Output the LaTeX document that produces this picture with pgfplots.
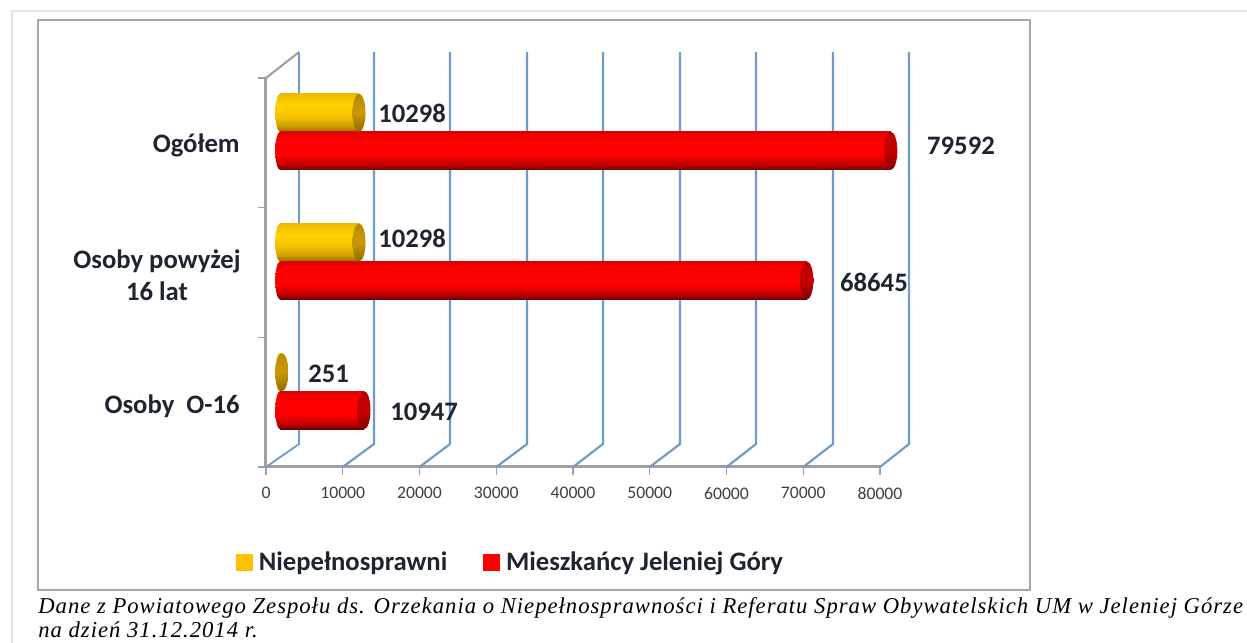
\documentclass[border=0pt]{standalone}
\usepackage{fontspec}
\setmainfont{Carlito}
\newfontfamily\capfont{Liberation Serif}[LetterSpace=4.4]
\usepackage{pgfplots}
\usepackage{pgfplotstable}
\pgfplotsset{compat=1.18}

% 1 reference pixel = 0.6pt
\def\px{0.6pt}

\definecolor{gridblue}{HTML}{6F9BCB}
\definecolor{axgray}{HTML}{A0A0A0}
\definecolor{framegray}{HTML}{A6A6A6}
\definecolor{pagegray}{HTML}{E2E2E2}
\definecolor{legyellow}{HTML}{FFC000}
\definecolor{legred}{HTML}{FF0000}
\definecolor{labeltext}{HTML}{1E2430}
\definecolor{ya}{HTML}{907000}
\definecolor{yb}{HTML}{D09E00}
\definecolor{yc}{HTML}{F5C000}
\definecolor{yd}{HTML}{FFD400}
\definecolor{yh}{HTML}{F0B800}
\definecolor{ye}{HTML}{8F6C00}
\definecolor{yf}{HTML}{C89A00}
\definecolor{yg}{HTML}{B88C00}
\definecolor{ra}{HTML}{700000}
\definecolor{rb}{HTML}{C00000}
\definecolor{rc}{HTML}{FF0000}
\definecolor{rd}{HTML}{E00000}
\definecolor{re}{HTML}{800000}
\definecolor{rf}{HTML}{C80000}
\definecolor{rg}{HTML}{B80000}

\pgfdeclareverticalshading{cylyellow}{100bp}{
  color(0bp)=(ya); color(25bp)=(ya); color(33bp)=(yb); color(45bp)=(yc);
  color(60bp)=(yd); color(75bp)=(yh); color(100bp)=(yh)}
\pgfdeclareverticalshading{cylred}{100bp}{
  color(0bp)=(ra); color(25bp)=(ra); color(32bp)=(rb); color(45bp)=(rc);
  color(65bp)=(rc); color(75bp)=(rd); color(100bp)=(rd)}
\pgfdeclareverticalshading{capyellow}{100bp}{
  color(0bp)=(ye); color(25bp)=(ye); color(50bp)=(yf); color(75bp)=(yg); color(100bp)=(yg)}
\pgfdeclareverticalshading{capred}{100bp}{
  color(0bp)=(re); color(25bp)=(re); color(50bp)=(rf); color(75bp)=(rg); color(100bp)=(rg)}

\pgfdeclareplotmark{endyellow}{\pgfpathellipse{\pgfpointorigin}{\pgfqpoint{3.9pt}{0pt}}{\pgfqpoint{0pt}{11.4pt}}\pgfshadepath{capyellow}{0}\pgfusepath{discard}}
\pgfdeclareplotmark{endred}{\pgfpathellipse{\pgfpointorigin}{\pgfqpoint{3.9pt}{0pt}}{\pgfqpoint{0pt}{11.4pt}}\pgfshadepath{capred}{0}\pgfusepath{discard}}
\pgfdeclareplotmark{baseyellow}{\pgfpathellipse{\pgfpointorigin}{\pgfqpoint{2.8pt}{0pt}}{\pgfqpoint{0pt}{11.4pt}}\pgfshadepath{cylyellow}{0}\pgfusepath{discard}}
\pgfdeclareplotmark{basered}{\pgfpathellipse{\pgfpointorigin}{\pgfqpoint{2.8pt}{0pt}}{\pgfqpoint{0pt}{11.4pt}}\pgfshadepath{cylred}{0}\pgfusepath{discard}}

% lx, ly: label offset from the bar end, in reference pixels
\pgfplotstableread{
val   cat lx ly
251   0   26 -2
10298 1   19 4
10298 2   19 -1
}\niepelno
\pgfplotstableread{
val   cat lx ly
10947 0   26 -2
68645 1   33 -2
79592 2   36 5
}\mieszkancy
\pgfplotstableread{
val cat
0   0
0   1
0   2
}\basept

\begin{document}
\begin{tikzpicture}
\begin{scope}[x=0.6pt,y=-0.6pt,shift={(-159.6pt,280.2pt)}]
  \fill[white] (0,0) rectangle (1247,643);
  \path[use as bounding box] (0,0) rectangle (1247,643);
  \draw[pagegray,line width=0.8pt] (12,643) -- (12,11) -- (1247,11);
  \fill[white] (38,20) rectangle (1030,590);
  \draw[framegray,line width=0.9pt] (38,20) rectangle (1030,590);
  \node[anchor=base west,inner sep=0,font=\capfont\itshape\fontsize{13.6pt}{16pt}\selectfont] at (38,614)
    {Dane z Powiatowego Zespołu ds. Orzekania o Niepełnosprawności i Referatu Spraw Obywatelskich UM w Jeleniej Górze};
  \node[anchor=base west,inner sep=0,font=\capfont\itshape\fontsize{13.6pt}{16pt}\selectfont] at (38,638)
    {na dzień 31.12.2014 r.};
  \node[align=center,inner sep=0,text=labeltext,font=\bfseries\fontsize{16pt}{19.2pt}\selectfont] at (157,275) {Osoby powyżej\\16 lat};
  \node[anchor=east,inner sep=0,text=labeltext,font=\bfseries\fontsize{16pt}{19pt}\selectfont] at (240,145) {Ogółem};
  \node[anchor=east,inner sep=0,text=labeltext,font=\bfseries\fontsize{16pt}{19pt}\selectfont] at (240,406) {Osoby\ \ O-16};
\end{scope}
\begin{axis}[
    at={(0,0)}, anchor=south west,
    scale only axis,
    width=368.4pt, height=233.4pt,
    xmin=0, xmax=80000,
    ymin=-0.5, ymax=2.5,
    clip=false,
    axis x line*=bottom,
    axis y line*=left,
    axis line style={axgray,line width=1.8pt,-},
    xtick={0,10000,...,80000},
    ytick={-0.5,0.5,1.5,2.5},
    yticklabels={},
    tick align=outside,
    major tick length=5pt,
    tick style={axgray,line width=0.8pt},
    scaled x ticks=false,
    x tick label style={font=\fontsize{10.6pt}{12pt}\selectfont,text=black!75,yshift=-3.6pt},
    /pgf/number format/1000 sep={},
    /pgf/number format/assume math mode=true,
    nodes near coords style={font=\bfseries\fontsize{16pt}{18pt}\selectfont,text=labeltext,inner sep=0pt,anchor=west},
    legend style={at={(0.3995,-0.244)},anchor=center,draw=none,fill=none,legend columns=2,
      font=\bfseries\fontsize{16pt}{18pt}\selectfont,text=labeltext,
      /tikz/every even column/.append style={column sep=19.7pt}},
]
% back wall and floor lines
\addplot[forget plot,gridblue,line width=1.1pt] coordinates {(0,-0.5)(4300,-0.323)(4300,2.7)};
\addplot[forget plot,gridblue,line width=1.3pt] coordinates {(10000,-0.5)(14070,-0.323)(14070,2.7)};
\addplot[forget plot,gridblue,line width=1.3pt] coordinates {(20000,-0.5)(23970,-0.323)(23970,2.7)};
\addplot[forget plot,gridblue,line width=1.3pt] coordinates {(30000,-0.5)(34000,-0.323)(34000,2.7)};
\addplot[forget plot,gridblue,line width=1.3pt] coordinates {(40000,-0.5)(43900,-0.323)(43900,2.7)};
\addplot[forget plot,gridblue,line width=1.3pt] coordinates {(50000,-0.5)(53940,-0.323)(53940,2.7)};
\addplot[forget plot,gridblue,line width=1.3pt] coordinates {(60000,-0.5)(63840,-0.323)(63840,2.7)};
\addplot[forget plot,gridblue,line width=1.3pt] coordinates {(70000,-0.5)(73870,-0.323)(73870,2.7)};
\addplot[forget plot,gridblue,line width=1.3pt] coordinates {(80000,-0.5)(83780,-0.323)(83780,2.7)};
\addplot[forget plot,axgray,line width=1.3pt] coordinates {(0,2.5)(4300,2.7)};

% yellow cylinders, one plot per bar so that each gets its own shading
\addplot[forget plot,only marks,mark=baseyellow,xshift=14*\px,yshift=30*\px] table[x=val,y=cat] {\basept};
\pgfplotsinvokeforeach{0,1,2}{
  \addplot[forget plot,xbar,bar width=22.8pt,bar shift=0pt,draw=none,shading=cylyellow,xshift=14*\px,yshift=30*\px,
    restrict y to domain=#1:#1] table[x=val,y=cat] {\niepelno};
}
\addplot[forget plot,only marks,mark=endyellow,xshift=14*\px,yshift=30*\px,
    visualization depends on={\thisrow{lx}\as\lx},
    visualization depends on={\thisrow{ly}\as\ly},
    point meta=x,nodes near coords,
    every node near coord/.append style={xshift=\lx*\px,yshift=\ly*\px}] table[x=val,y=cat] {\niepelno};

% red cylinders
\addplot[forget plot,only marks,mark=basered,xshift=14*\px,yshift=-8*\px] table[x=val,y=cat] {\basept};
\pgfplotsinvokeforeach{0,1,2}{
  \addplot[forget plot,xbar,bar width=22.8pt,bar shift=0pt,draw=none,shading=cylred,xshift=14*\px,yshift=-8*\px,
    restrict y to domain=#1:#1] table[x=val,y=cat] {\mieszkancy};
}
\addplot[forget plot,only marks,mark=endred,xshift=14*\px,yshift=-8*\px,
    visualization depends on={\thisrow{lx}\as\lx},
    visualization depends on={\thisrow{ly}\as\ly},
    point meta=x,nodes near coords,
    every node near coord/.append style={xshift=\lx*\px,yshift=\ly*\px}] table[x=val,y=cat] {\mieszkancy};

\addlegendimage{legend image code/.code={\fill[legyellow] (0pt,-4.8pt) rectangle (9.6pt,4.8pt); \path (11.2pt,0pt);}}
\addlegendentry{Niepełnosprawni}
\addlegendimage{legend image code/.code={\fill[legred] (0pt,-4.8pt) rectangle (9.6pt,4.8pt); \path (11.2pt,0pt);}}
\addlegendentry{Mieszkańcy Jeleniej Góry}
\end{axis}
\end{tikzpicture}
\end{document}
